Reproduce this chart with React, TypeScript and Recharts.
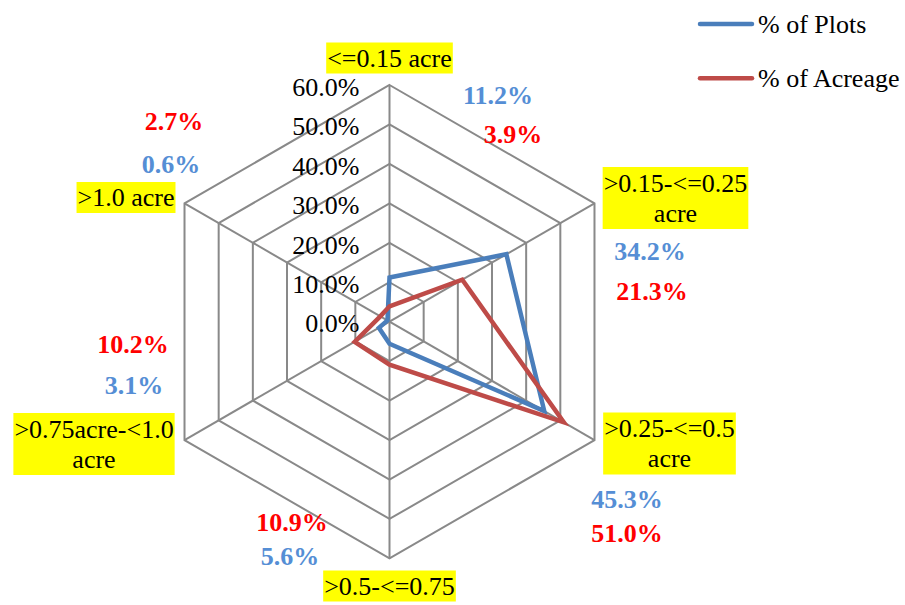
import React, { useLayoutEffect, useRef, useState } from "react";
import { RadarChart, Radar, PolarGrid, PolarAngleAxis, PolarRadiusAxis, Legend } from "recharts";

// ---------- data ----------
const categories: string[] = [
  "<=0.15 acre",
  ">0.15-<=0.25 acre",
  ">0.25-<=0.5 acre",
  ">0.5-<=0.75",
  ">0.75acre-<1.0 acre",
  ">1.0 acre",
];
const categoryLines: string[][] = [
  ["<=0.15 acre"],
  [">0.15-<=0.25", "acre"],
  [">0.25-<=0.5", "acre"],
  [">0.5-<=0.75"],
  [">0.75acre-<1.0", "acre"],
  [">1.0 acre"],
];
const plots: number[] = [11.2, 34.2, 45.3, 5.6, 3.1, 0.6];
const acreage: number[] = [3.9, 21.3, 51.0, 10.9, 10.2, 2.7];
const radiusTicks: number[] = [0, 10, 20, 30, 40, 50, 60];
const seriesNames = { plots: "% of Plots", acreage: "% of Acreage" };

const chartData = categories.map((c, i) => ({ cat: c, plots: plots[i], acreage: acreage[i] }));

// ---------- layout / style ----------
const W = 905;
const H = 605;
const CX = 389.5;
const CY = 321.7;
const R = 236.7;
const FONT = "'Liberation Serif', 'Times New Roman', Times, 'DejaVu Serif', serif";
const FS = 26;
const BLUE = "#4A7EBB";
const RED = "#BE4B48";
const BLUE_LABEL = "#558ED5";
const RED_LABEL = "#FF0000";
const GRID = "#898989";
const TXT: React.CSSProperties = { fontFamily: FONT, fontSize: FS };

// offsets of label centres from each spoke's outer vertex
const catOffset: [number, number][] = [
  [0, -27],
  [81, -5.35],
  [75, 3.45],
  [0, 27.6],
  [-90.5, 3.95],
  [-58.5, -5.85],
];
const plotsLabelOffset: [number, number][] = [
  [108.5, 10],
  [55.5, 48.35],
  [32.5, 59.45],
  [-99.5, -2.1],
  [-50.5, -54.75],
  [-13.5, -39.15],
];
const acreLabelOffset: [number, number][] = [
  [123.5, 49.7],
  [57.5, 87.45],
  [32.5, 93.45],
  [-97.5, -36.4],
  [-51.5, -95.85],
  [-10.5, -81.65],
];

const LINE_H = 30;
const BASE_SHIFT = 0.338 * FS;

function vertex(i: number) {
  const a = ((90 - i * 60) * Math.PI) / 180;
  return { x: CX + R * Math.cos(a), y: CY - R * Math.sin(a) };
}

function HiLabel({ cx, cy, lines }: { cx: number; cy: number; lines: string[] }) {
  const ref = useRef<SVGTextElement>(null);
  const [w, setW] = useState<number>(0);
  useLayoutEffect(() => {
    if (ref.current) {
      const b = ref.current.getBBox();
      setW(b.width);
    }
  }, []);
  const h = lines.length * (LINE_H + 1);
  const top = cy - h / 2;
  return (
    <g>
      {w > 0 && <rect x={cx - w / 2 - 1} y={top} width={w + 2} height={h} fill="#FFFF00" />}
      <text ref={ref} textAnchor="middle" style={TXT} fill="#000">
        {lines.map((ln, k) => (
          <tspan key={k} x={cx} y={cy - ((lines.length - 1) * LINE_H) / 2 + k * LINE_H + BASE_SHIFT}>
            {ln}
          </tspan>
        ))}
      </text>
    </g>
  );
}

function AngleTick(props: any) {
  const { payload } = props;
  const i = categories.indexOf(payload.value);
  if (i < 0) return null;
  const v = vertex(i);
  const co = catOffset[i];
  const po = plotsLabelOffset[i];
  const ao = acreLabelOffset[i];
  return (
    <g>
      <HiLabel cx={v.x + co[0]} cy={v.y + co[1]} lines={categoryLines[i]} />
      <text
        x={v.x + po[0]}
        y={v.y + po[1] + BASE_SHIFT}
        textAnchor="middle"
        style={{ ...TXT, fontWeight: "bold" }}
        fill={BLUE_LABEL}
      >
        {`${plots[i].toFixed(1)}%`}
      </text>
      <text
        x={v.x + ao[0]}
        y={v.y + ao[1] + BASE_SHIFT}
        textAnchor="middle"
        style={{ ...TXT, fontWeight: "bold" }}
        fill={RED_LABEL}
      >
        {`${acreage[i].toFixed(1)}%`}
      </text>
    </g>
  );
}

function RadiusTick(props: any) {
  const { x, y, payload } = props;
  return (
    <text x={x - 30} y={y + 2 + BASE_SHIFT} textAnchor="end" style={TXT} fill="#000">
      {`${Number(payload.value).toFixed(1)}%`}
    </text>
  );
}

function LegendContent() {
  const items = [
    { name: seriesNames.plots, color: BLUE, y: 24 },
    { name: seriesNames.acreage, color: RED, y: 78.3 },
  ];
  return (
    <svg width={W} height={110} style={{ position: "absolute", left: 0, top: 0, overflow: "visible" }}>
      {items.map((it) => (
        <g key={it.name}>
          <line x1={700} y1={it.y} x2={752} y2={it.y} stroke={it.color} strokeWidth={4.5} strokeLinecap="round" />
          <text x={758} y={it.y + BASE_SHIFT} style={TXT} fill="#000">
            {it.name}
          </text>
        </g>
      ))}
    </svg>
  );
}

export default function App() {
  return (
    <div style={{ position: "absolute", left: 0, top: 0, width: W, height: H, background: "#fff", fontFamily: FONT }}>
      <RadarChart
        width={W}
        height={H}
        data={chartData}
        cx={CX}
        cy={CY}
        outerRadius={R}
        margin={{ top: 0, right: 0, bottom: 0, left: 0 }}
      >
        <PolarGrid gridType="polygon" stroke={GRID} strokeWidth={2} strokeOpacity={1} />
        <PolarAngleAxis dataKey="cat" tick={AngleTick} tickLine={false} axisLine={false} />
        <PolarRadiusAxis
          angle={90}
          domain={[0, 60]}
          ticks={radiusTicks as any}
          tickCount={7}
          axisLine={false}
          tickLine={false}
          tick={RadiusTick}
        />
        <Radar
          name={seriesNames.plots}
          dataKey="plots"
          stroke={BLUE}
          strokeWidth={4.5}
          fill="none"
          fillOpacity={0}
          strokeLinejoin="miter"
          isAnimationActive={false}
        />
        <Radar
          name={seriesNames.acreage}
          dataKey="acreage"
          stroke={RED}
          strokeWidth={4.5}
          fill="none"
          fillOpacity={0}
          strokeLinejoin="miter"
          isAnimationActive={false}
        />
        <Legend content={LegendContent} wrapperStyle={{ position: "absolute", left: 0, top: 0, width: W }} />
      </RadarChart>
    </div>
  );
}
